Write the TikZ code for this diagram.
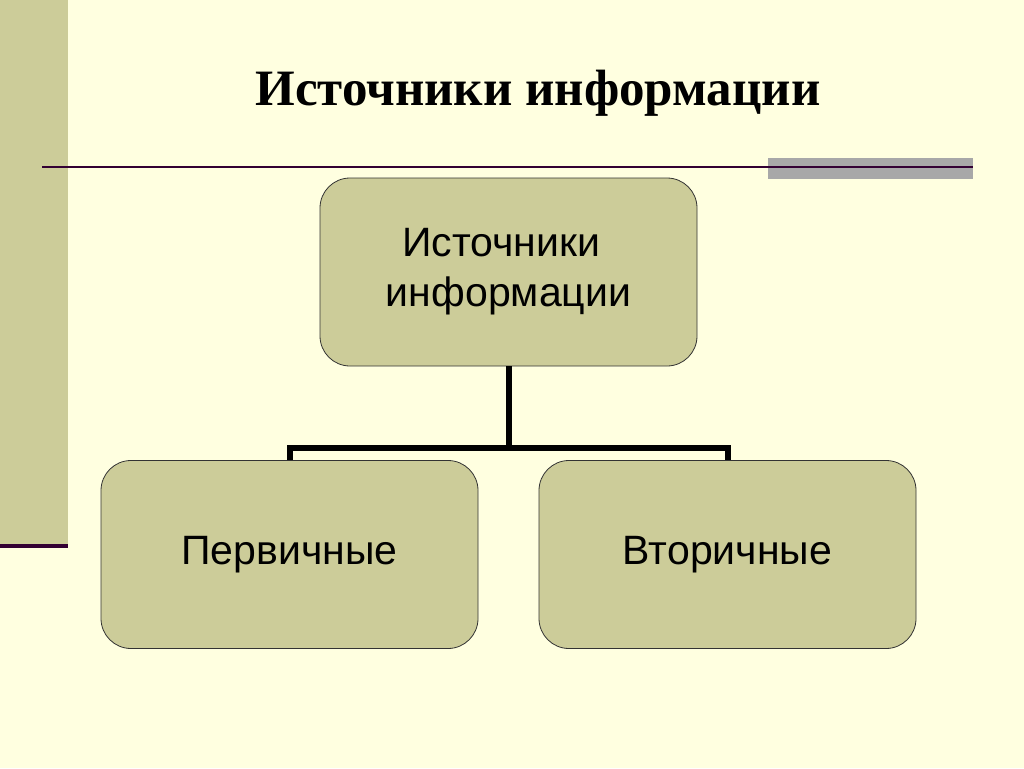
\documentclass[tikz,border=0pt]{standalone}
\usepackage{fontspec}
\setmainfont{Liberation Serif}
\newfontfamily\boxfont{Liberation Sans}
\usepackage{xcolor}
\usepackage{tikz}
\usetikzlibrary{positioning}
\definecolor{slidebg}{RGB}{255, 255, 224}
\definecolor{olive}{RGB}{204, 204, 153}
\definecolor{plum}{RGB}{51, 0, 51}
\definecolor{bargray}{RGB}{168, 168, 168}

\begin{document}
\begin{tikzpicture}[x=1pt, y=-1pt,
  srcbox/.style={draw=black!80, line width=0.8pt, fill=olive, rounded corners=30pt,
    minimum width=377pt, minimum height=188pt, align=center,
    font=\boxfont\fontsize{41}{50}\selectfont},
  conn/.style={line width=6pt, line join=miter}]
% Background and frame
\useasboundingbox (0,0) rectangle (1024,768);
\fill[slidebg] (0,0) rectangle (1024,768);
\fill[olive] (0,0) rectangle (68,545);
\draw[plum, line width=4pt] (0,546) -- (68,546);
\fill[bargray] (768,158) rectangle (973,179);
\draw[plum, line width=2pt] (42,167) -- (973,167);

% Title
\node[anchor=base, font=\bfseries\fontsize{51}{58}\selectfont] (title) at (538,105) {Источники информации};

% Boxes
\node[srcbox] (src) at (508.5,272) {Источники\hspace*{0.35em}\\информации};
\node[srcbox] (prim) at (289.5,554.5) {Первичные};
\node[srcbox] (sec) at (727.5,554.5) {Вторичные};

% Connectors
\draw[conn] (src.south) -- ++(0,82) coordinate (split);
\draw[conn] (prim.north) |- (split) -| (sec.north);
\end{tikzpicture}
\end{document}
